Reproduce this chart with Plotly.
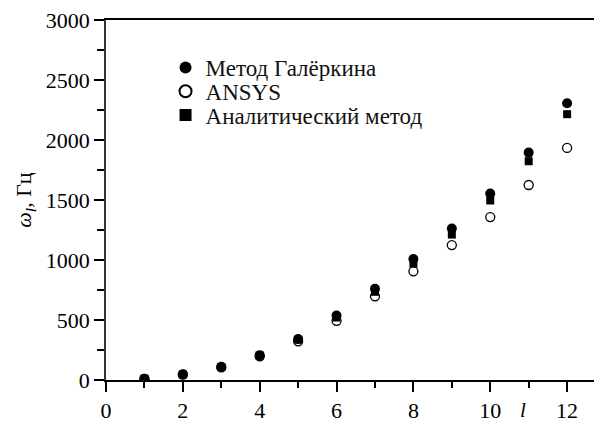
import plotly.graph_objects as go

l_vals = [1, 2, 3, 4, 5, 6, 7, 8, 9, 10, 11, 12]
galerkin = [11, 47, 110, 207, 342, 537, 760, 1008, 1262, 1554, 1895, 2306]
ansys = [10, 44, 105, 198, 322, 493, 697, 906, 1124, 1358, 1625, 1934]
analytic = [11, 46, 108, 203, 335, 521, 735, 970, 1212, 1496, 1823, 2215]

names = ["Метод Галёркина", "ANSYS", "Аналитический метод"]
y_ticks = [0, 500, 1000, 1500, 2000, 2500, 3000]
x_ticks = [0, 2, 4, 6, 8, 10, 12]

FONT = "Liberation Serif"

fig = go.Figure()
fig.add_trace(go.Scatter(
    x=l_vals, y=ansys, mode="markers", name=names[1], legend="legend2",
    marker=dict(symbol="circle", size=9, color="white",
                line=dict(color="black", width=1.3)),
))
fig.add_trace(go.Scatter(
    x=l_vals, y=analytic, mode="markers", name=names[2], legend="legend3",
    marker=dict(symbol="square", size=8, color="black", line=dict(width=0)),
))
fig.add_trace(go.Scatter(
    x=l_vals, y=galerkin, mode="markers", name=names[0], legend="legend",
    marker=dict(symbol="circle", size=10, color="black", line=dict(width=0)),
))

leg_common = dict(x=0.122, xanchor="left", yanchor="middle",
                  bgcolor="rgba(0,0,0,0)", itemwidth=30,
                  font=dict(family=FONT, size=23, color="#111"),
                  itemsizing="constant")

fig.update_layout(
    width=594, height=423,
    margin=dict(l=106, r=0, t=20, b=40),
    paper_bgcolor="white", plot_bgcolor="white",
    font=dict(family=FONT, size=20, color="black"),
    showlegend=True,
    legend=dict(y=0.868, **leg_common),
    legend2=dict(y=0.802, **leg_common),
    legend3=dict(y=0.736, **leg_common),
    xaxis=dict(range=[0, 12.7], tickvals=x_ticks, ticks="outside", ticklen=10,
               tickwidth=1.5, tickcolor="black", showline=True, linecolor="black",
               linewidth=1.8, mirror=True, showgrid=False, zeroline=False,
               minor=dict(dtick=1, tick0=0, ticks="outside", ticklen=6,
                          tickwidth=1.5, tickcolor="black", showgrid=False),
               tickfont=dict(family=FONT, size=22)),
    yaxis=dict(range=[0, 3000], tickvals=y_ticks, ticks="outside", ticklen=10,
               tickwidth=1.5, tickcolor="black", showline=True, linecolor="#333",
               linewidth=1.8, showgrid=False, zeroline=False,
               minor=dict(dtick=250, tick0=0, ticks="outside", ticklen=7,
                          tickwidth=1.5, tickcolor="black", showgrid=False),
               tickfont=dict(family=FONT, size=22),
               title=dict(text="<i>ω</i><sub><i>l</i></sub>, Гц", standoff=8,
                          font=dict(family=FONT, size=22))),
)

fig.add_annotation(x=10.85, xref="x", y=0, yref="paper", yanchor="top",
                   yshift=-16, text="<i>l</i>", showarrow=False,
                   font=dict(family=FONT, size=21, color="black"))

fig.write_html("out.html", config={"displayModeBar": False},
               post_script="document.body.style.margin='0';document.body.style.padding='0';")
